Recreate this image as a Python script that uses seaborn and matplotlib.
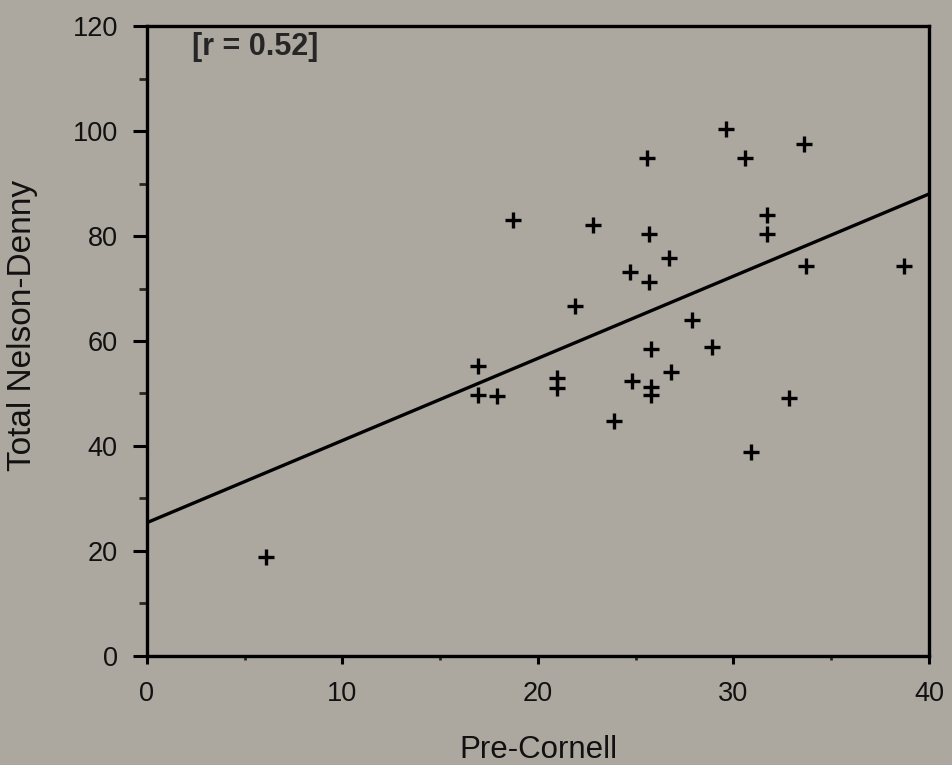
import matplotlib
matplotlib.use("Agg")
import matplotlib.pyplot as plt
import seaborn as sns
import pandas as pd
from matplotlib.ticker import MultipleLocator

pre_cornell = [29.6, 33.6, 25.6, 30.6, 18.7, 22.8, 31.7, 31.7, 25.7, 26.7,
               24.7, 25.7, 33.7, 38.7, 21.9, 27.9, 28.9, 25.8, 16.95, 16.95,
               17.9, 20.96, 20.96, 24.8, 26.8, 25.8, 25.8, 32.85, 23.9, 30.9, 6.1]
nelson_denny = [100.4, 97.5, 94.8, 94.8, 83.0, 82.1, 84.0, 80.4, 80.4, 75.9,
                73.1, 71.2, 74.3, 74.2, 66.7, 64.0, 58.9, 58.5, 55.2, 49.7,
                49.5, 52.9, 51.0, 52.3, 54.0, 51.3, 49.7, 49.1, 44.8, 38.8, 18.8]
fit_x = [0, 40]
fit_y = [25.4, 88.0]
x_ticks = [0, 10, 20, 30, 40]
y_ticks = [0, 20, 40, 60, 80, 100, 120]
annotation = "[r = 0.52]"

df = pd.DataFrame({"Pre-Cornell": pre_cornell, "Total Nelson-Denny": nelson_denny})
fit = pd.DataFrame({"x": fit_x, "y": fit_y})

sns.set_style("ticks")
plt.rcParams['font.family'] = ['Liberation Sans', 'DejaVu Sans']
bg = '#aca89f'

fig = plt.figure(figsize=(9.52, 7.65), dpi=100, facecolor=bg)
ax = fig.add_axes([0.1544, 0.1425, 0.9758 - 0.1544, 0.966 - 0.1425])
ax.set_facecolor(bg)

sns.lineplot(data=fit, x="x", y="y", ax=ax, color='black', linewidth=2.4)
sns.scatterplot(data=df, x="Pre-Cornell", y="Total Nelson-Denny", ax=ax,
                marker='+', s=140, color='black', linewidth=2.4)

ax.set_xlim(0, 40)
ax.set_ylim(0, 120)
ax.set_xticks(x_ticks)
ax.set_yticks(y_ticks)
ax.xaxis.set_minor_locator(MultipleLocator(5))
ax.yaxis.set_minor_locator(MultipleLocator(10))
ax.tick_params(axis='both', which='major', direction='out', width=2.2, color='black',
               labelsize=19.5, labelcolor='#111111')
ax.tick_params(axis='y', which='major', length=10, pad=11)
ax.tick_params(axis='x', which='major', length=6, pad=12)
ax.tick_params(axis='y', which='minor', direction='out', length=6, width=2.0)
ax.tick_params(axis='x', which='minor', direction='out', length=3, width=2.0)
for sp in ax.spines.values():
    sp.set_visible(True)
    sp.set_linewidth(2.4)
    sp.set_color('black')

ax.set_xlabel("Pre-Cornell", fontsize=22.5, labelpad=20, color='#111111')
ax.set_ylabel("Total Nelson-Denny", fontsize=24, color='#111111')
ax.yaxis.set_label_coords(-0.139, 0.524)
ax.text(2.3, 116.0, annotation, fontsize=22, fontweight='bold', va='center', ha='left')

fig.savefig("out.png", dpi=100, facecolor=bg)
